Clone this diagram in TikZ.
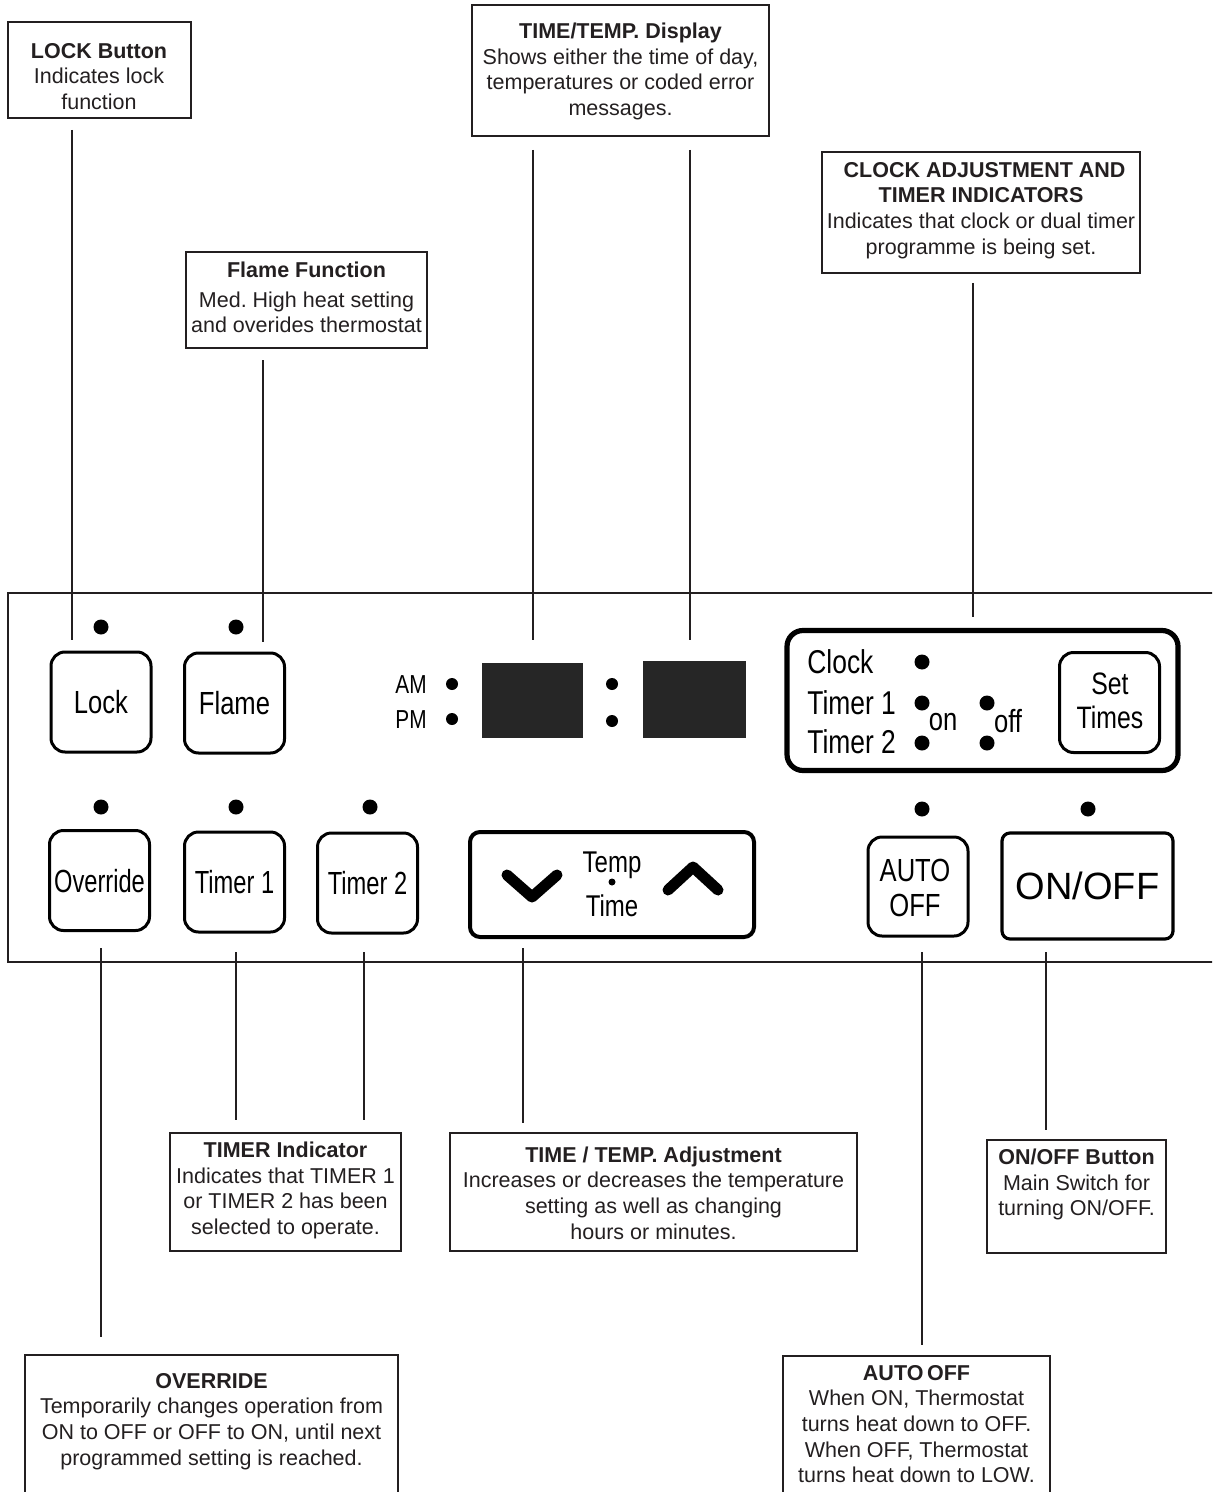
\documentclass[tikz,border=0pt]{standalone}
\usepackage{fontspec}
\setmainfont{Liberation Sans}
\newfontfamily\narrowfont[FakeStretch=0.8]{Liberation Sans}
\newfontfamily\xnarrowfont[FakeStretch=0.74]{Liberation Sans}
\definecolor{ink}{HTML}{231F20}
\definecolor{lcd}{HTML}{262626}
\begin{document}
\begin{tikzpicture}[x=0.5pt,y=-0.5pt,
  callbox/.style={draw=ink,line width=1.2pt,inner sep=0pt},
  calltext/.style={align=center,text=ink,font=\fontsize{10.75}{12.8}\selectfont,inner sep=0pt},
  conn/.style={draw=ink,line width=1pt},
  btnframe/.style={draw=black,line width=1.5pt,rounded corners=7pt,minimum width=50pt,minimum height=50pt,inner sep=0pt},
  btn/.style={btnframe,font=\narrowfont\fontsize{16}{17.5}\selectfont,text height=11.5pt,text depth=0pt},
  led/.style={circle,fill=black,inner sep=0pt,minimum size=7.5pt},
  sdot/.style={circle,fill=black,inner sep=0pt,minimum size=6pt},
  lbl/.style={inner sep=0pt,font=\narrowfont\fontsize{16.5}{18}\selectfont,text height=11.8pt,text depth=0pt},
  chev/.style={line width=5.5pt,line cap=round,line join=round}
]
\useasboundingbox (0,0) rectangle (1212,1492);
\clip (0,0) rectangle (1212,1492);

% panel outline (open on the right)
\draw[line width=1pt,draw=ink] (1230,593) -- (8,593) -- (8,962) -- (1230,962);

% ---------- callouts ----------
\node[callbox,minimum width=91.5pt,minimum height=48pt] (lockbox) at (99.5,70) {};
\node[calltext] (lockc) at (99,76.5) {\textbf{LOCK Button}\\Indicates lock\\function};

\node[callbox,minimum width=148.5pt,minimum height=65.5pt] (dispbox) at (620.5,70.5) {};
\node[calltext] (dispc) at (620.5,71.5) {\textbf{TIME/TEMP. Display}\\Shows either the time of day,\\temperatures or coded error\\messages.};

\node[callbox,minimum width=159pt,minimum height=60.5pt] (clockbox) at (981,212.5) {};
\node[calltext] (clockc) at (981,210.5) {\textbf{\,\,CLOCK ADJUSTMENT AND}\\\textbf{TIMER INDICATORS}\\Indicates that clock or dual timer\\programme is being set.};

\node[callbox,minimum width=120.5pt,minimum height=48pt] (flamebox) at (306.5,300) {};
\node[calltext] (flamec) at (306.5,297.5) {\textbf{Flame Function}\\[2pt]Med.\ High heat setting\\and overides thermostat};

\node[callbox,minimum width=115.5pt,minimum height=59pt] (timerbox) at (285.5,1192) {};
\node[calltext] (timerc) at (285.5,1190.5) {\textbf{TIMER Indicator}\\Indicates that TIMER 1\\or TIMER 2 has been\\selected to operate.};

\node[callbox,minimum width=203.5pt,minimum height=59pt] (adjbox) at (653.5,1192) {};
\node[calltext] (adjc) at (653.5,1193) {\textbf{TIME / TEMP. Adjustment}\\Increases or decreases the temperature\\setting as well as changing\\hours or minutes.};

\node[callbox,minimum width=89.5pt,minimum height=56.5pt] (onoffbox) at (1076.5,1196.5) {};
\node[calltext] (onoffc) at (1076.5,1184.5) {\textbf{ON/OFF Button}\\Main Switch for\\turning ON/OFF.};

\node[callbox,minimum width=186.5pt,minimum height=82.5pt] (ovrbox) at (211.5,1437.5) {};
\node[calltext] (ovrc) at (211.5,1421.5) {\textbf{OVERRIDE}\\Temporarily changes operation from\\ON to OFF or OFF to ON, until next\\programmed setting is reached.};

\node[callbox,minimum width=133.5pt,minimum height=82pt] (autobox) at (916.5,1438) {};
\node[calltext] (autoc) at (916.5,1424) {\textbf{AUTO\,OFF}\\When ON, Thermostat\\turns heat down to OFF.\\When OFF, Thermostat\\turns heat down to LOW.};

% ---------- panel: top row ----------
\node[led] (ledlock) at (101,627) {};
\node[led] (ledflame) at (236,627) {};
\node[btn] (lock) at (101,702) {Lock};
\node[btn] (flame) at (234.5,703) {Flame};

\node[anchor=east,inner sep=0pt,font=\narrowfont\fontsize{13}{14}\selectfont,text height=9.3pt,text depth=0pt] (am) at (427,684) {AM};
\node[anchor=east,inner sep=0pt,font=\narrowfont\fontsize{13}{14}\selectfont,text height=9.3pt,text depth=0pt] (pm) at (427,719) {PM};
\node[sdot] (amdot) at (452,684) {};
\node[sdot] (pmdot) at (452,719) {};
\node[fill=lcd,minimum width=50.5pt,minimum height=37.5pt,inner sep=0pt] (dispL) at (532.5,700.5) {};
\node[sdot] (colA) at (612,684) {};
\node[sdot] (colB) at (612,721) {};
\node[fill=lcd,minimum width=51.5pt,minimum height=38.5pt,inner sep=0pt] (dispR) at (694.5,699.5) {};

% clock / timer indicator box
\node[draw=black,line width=2.6pt,rounded corners=8pt,minimum width=195.5pt,minimum height=70pt,inner sep=0pt] (clockpanel) at (982.5,700.5) {};
\node[lbl,anchor=west] (tclock) at (807,662) {Clock};
\node[lbl,anchor=west] (tt1) at (807,703) {Timer 1};
\node[lbl,anchor=west] (tt2) at (807,742) {Timer 2};
\node[led] (dclock) at (922,662) {};
\node[led] (dt1on) at (922,703) {};
\node[led] (dt2on) at (922,743) {};
\node[led] (dt1off) at (987,703) {};
\node[led] (dt2off) at (987,743) {};
\node[inner sep=0pt,font=\narrowfont\fontsize{16}{17}\selectfont] (ton) at (943,722) {on};
\node[inner sep=0pt,font=\narrowfont\fontsize{16}{17}\selectfont] (toff) at (1008,721) {off};
\node[btnframe] (setbtn) at (1109.5,702.5) {};
\node[inner sep=0pt,align=center,font=\narrowfont\fontsize{15.5}{17}\selectfont] (settxt) at (1110,701) {Set\\Times};

% ---------- panel: bottom row ----------
\node[led] (ledovr) at (101,807) {};
\node[led] (ledt1) at (236,807) {};
\node[led] (ledt2) at (370,807) {};
\node[led] (ledauto) at (922,809) {};
\node[led] (ledonoff) at (1088,809) {};

\node[btn,font=\xnarrowfont\fontsize{16}{17.5}\selectfont] (override) at (99.5,880.5) {Override};
\node[btn,font=\xnarrowfont\fontsize{16}{17.5}\selectfont] (timer1) at (234.5,882) {Timer 1};
\node[btn,font=\xnarrowfont\fontsize{16}{17.5}\selectfont] (timer2) at (367.5,883) {Timer 2};

\node[draw=black,line width=2pt,rounded corners=5pt,minimum width=142pt,minimum height=52.5pt,inner sep=0pt] (tempbtn) at (612,884.5) {};
\coordinate (dnA) at (507,875);
\coordinate (dnB) at (532,897);
\coordinate (dnC) at (557,875);
\coordinate (upA) at (668,890);
\coordinate (upB) at (693,867);
\coordinate (upC) at (718,890);
\draw[chev] (dnA) -- (dnB) -- (dnC);
\draw[chev] (upA) -- (upB) -- (upC);
\node[inner sep=0pt,font=\narrowfont\fontsize{15}{16}\selectfont,text height=10.8pt,text depth=0pt] (ttemp) at (612,862) {Temp};
\node[circle,fill=black,inner sep=0pt,minimum size=3.5pt] (tdot) at (612,882) {};
\node[inner sep=0pt,font=\narrowfont\fontsize{15}{16}\selectfont,text height=10.8pt,text depth=0pt] (ttime) at (612,906) {Time};

\node[btnframe,minimum height=49.5pt] (autobtn) at (918,886.5) {};
\node[inner sep=0pt,align=center,font=\narrowfont\fontsize{16}{17.5}\selectfont] (autotxt) at (915,887.5) {AUTO\\OFF};

\node[draw=black,line width=1.6pt,rounded corners=4pt,minimum width=85.5pt,minimum height=53pt,inner sep=0pt,font=\fontsize{19}{20}\selectfont,text height=13.6pt,text depth=0pt] (onoff) at (1087.5,886) {ON/OFF};

% ---------- connectors ----------
\coordinate (c1a) at (72,130);   \coordinate (c1b) at (72,640);
\coordinate (c2a) at (263,360);  \coordinate (c2b) at (263,642);
\coordinate (c3a) at (533,150);  \coordinate (c3b) at (533,640);
\coordinate (c4a) at (690,150);  \coordinate (c4b) at (690,640);
\coordinate (c5a) at (973,283);  \coordinate (c5b) at (973,617);
\coordinate (c6a) at (101,948);  \coordinate (c6b) at (101,1337);
\coordinate (c7a) at (236,952);  \coordinate (c7b) at (236,1120);
\coordinate (c8a) at (364,952);  \coordinate (c8b) at (364,1120);
\coordinate (c9a) at (523,948);  \coordinate (c9b) at (523,1123);
\coordinate (c10a) at (922,952); \coordinate (c10b) at (922,1345);
\coordinate (c11a) at (1046,952);\coordinate (c11b) at (1046,1130);
\foreach \i in {1,...,11} {\draw[conn] (c\i a) -- (c\i b);}
\end{tikzpicture}
\end{document}
